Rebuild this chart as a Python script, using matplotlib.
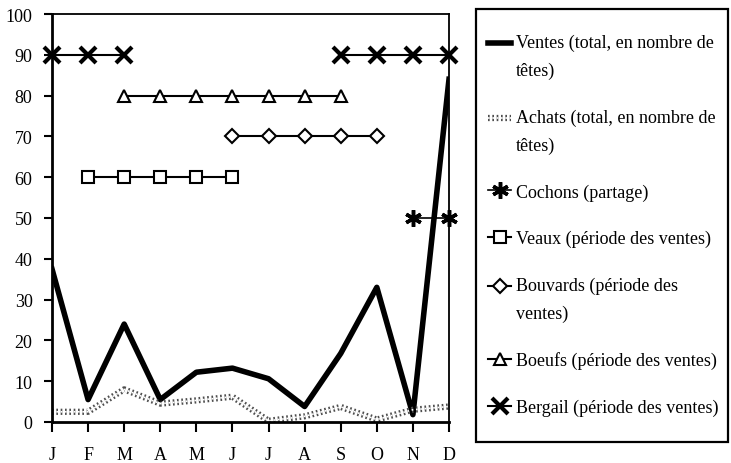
import numpy as np
import matplotlib
matplotlib.use("Agg")
import matplotlib.pyplot as plt
import matplotlib.patheffects as pe
from matplotlib.patches import Rectangle
from matplotlib.legend_handler import HandlerLine2D

plt.rcParams['font.family'] = ['Liberation Serif', 'DejaVu Serif']

# months and series values
months = ["J", "F", "M", "A", "M", "J", "J", "A", "S", "O", "N", "D"]
ventes = [37.5, 5.5, 24, 5.5, 12.2, 13.2, 10.6, 3.8, 16.8, 33, 1.8, 84]
achats = [2.5, 2.5, 8, 4.5, 5.3, 6.2, 0.3, 1.4, 3.7, 0.6, 3, 3.8]
nan = np.nan
cochons = [nan, nan, nan, nan, nan, nan, nan, nan, nan, nan, 50, 50]
veaux = [nan, 60, 60, 60, 60, 60, nan, nan, nan, nan, nan, nan]
bouvards = [nan, nan, nan, nan, nan, 70, 70, 70, 70, 70, nan, nan]
boeufs = [nan, nan, 80, 80, 80, 80, 80, 80, 80, nan, nan, nan]
bergail = [90, 90, 90, nan, nan, nan, nan, nan, 90, 90, 90, 90]

x = np.arange(len(months))


class FirstLineHandler(HandlerLine2D):
    # put the handle next to the first line of a two-line label
    def create_artists(self, legend, orig_handle, xdescent, ydescent,
                       width, height, fontsize, trans):
        return super().create_artists(legend, orig_handle, xdescent, ydescent - 20,
                                       width, height, fontsize, trans)


fig = plt.figure(figsize=(7.31, 4.64), dpi=100)
ax = fig.add_axes([52 / 731, 1 - 423 / 464, 397 / 731, 408 / 464])

l_ventes, = ax.plot(x, ventes, color="black", lw=4,
                    label="Ventes (total, en nombre de\ntêtes)")
# grey hatched line: thick grey stroke with white dots on top
l_achats, = ax.plot(x, achats, color="white", lw=1.2, ls=(0, (1, 1.6)),
                    path_effects=[pe.Stroke(linewidth=4.5, foreground="#4d4d4d"), pe.Normal()],
                    label="Achats (total, en nombre de\ntêtes)")
ax.plot(x, cochons, color="black", lw=1.2, marker=(6, 2, 0), ms=12, mew=2.5,
        clip_on=False, label="Cochons (partage)")
ax.plot(x, veaux, color="black", lw=1.5, marker="s", ms=8, mfc="white", mew=1.5,
        clip_on=False, label="Veaux (période des ventes)")
l_bouv, = ax.plot(x, bouvards, color="black", lw=1.5, marker="D", ms=7, mfc="white", mew=1.5,
                  clip_on=False, label="Bouvards (période des\nventes)")
ax.plot(x, boeufs, color="black", lw=1.5, marker="^", ms=9, mfc="white", mew=1.5,
        clip_on=False, label="Boeufs (période des ventes)")
ax.plot(x, bergail, color="black", lw=1.5, marker="x", ms=11, mew=3,
        clip_on=False, label="Bergail (période des ventes)")

ax.set_xlim(0, 11)
ax.set_ylim(0, 100)
ax.set_xticks(x)
ax.set_xticklabels(months, fontsize=13)
ax.set_yticks(np.arange(0, 101, 10))
ax.tick_params(axis="y", labelsize=13, direction="out", length=6, width=1.5, pad=8)
ax.tick_params(axis="x", direction="out", length=7, width=1.5, pad=10)
for s in ax.spines.values():
    s.set_linewidth(1.3)
ax.spines["left"].set_linewidth(2)
ax.spines["bottom"].set_linewidth(2)

# legend frame drawn on its own so the padding can differ from the entries
fig.patches.append(Rectangle((476 / 731, 1 - 443 / 464), 252 / 731, 433 / 464,
                             transform=fig.transFigure, fill=False,
                             edgecolor="black", lw=1.6))
shifted = {l_ventes: FirstLineHandler(), l_achats: FirstLineHandler(),
           l_bouv: FirstLineHandler()}
leg = ax.legend(loc="upper left", bbox_to_anchor=(488 / 731, 1 - 35 / 464),
                bbox_transform=fig.transFigure, borderaxespad=0, fontsize=13,
                frameon=False, handlelength=1.3, handletextpad=0.25,
                labelspacing=1.63, borderpad=0, handler_map=shifted)
for t in leg.get_texts():
    t.set_linespacing(1.8)

fig.savefig("out.png", dpi=100)
